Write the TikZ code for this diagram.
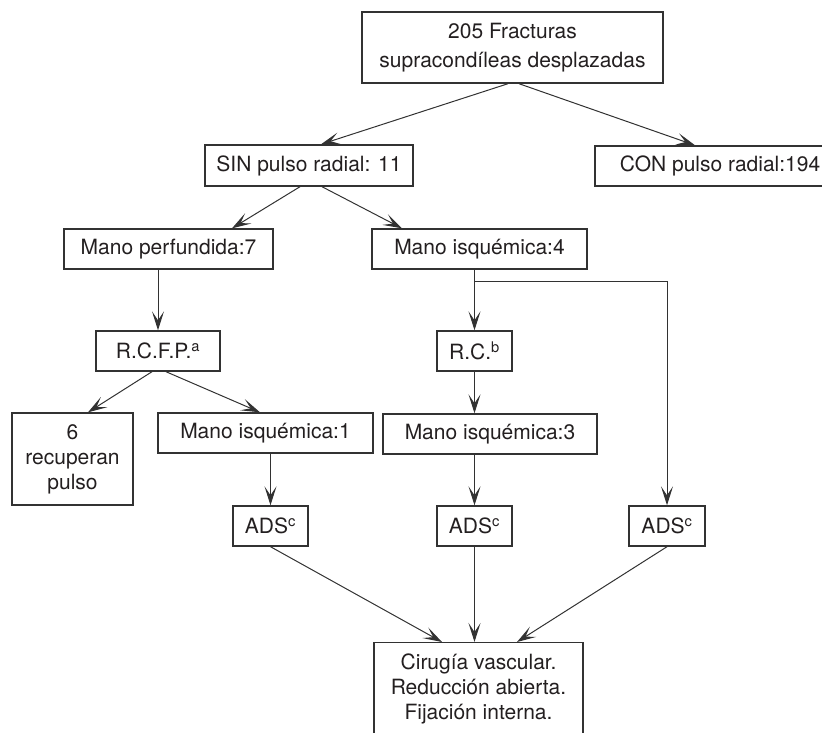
\documentclass[tikz,border=0pt]{standalone}
\usepackage{fontspec}
\setmainfont{TeX Gyre Heros}
\usepackage{xcolor}
\usepackage{tikz}
\usetikzlibrary{arrows.meta}

\definecolor{linegray}{RGB}{50,50,50}
\definecolor{inkgray}{RGB}{35,31,32}
\tikzset{
	box/.style={draw=linegray,line width=1.4pt,inner sep=0pt,align=center,text=inkgray,
		font=\fontsize{21}{25}\selectfont},
	conn/.style={color=linegray,line width=1pt,-{Stealth[length=19pt,width=12pt,inset=9pt]}}
}

\begin{document}
\begin{tikzpicture}[x=1pt,y=-1pt]
		\useasboundingbox (0,0) rectangle (822,732);
		\node[box,minimum width=301pt,minimum height=71pt] (total) at (512.5,47.5) {205 Fracturas\\[4pt]supracondíleas desplazadas};
		\node[box,minimum width=208pt,minimum height=41pt] (sin) at (309,165.5) {SIN pulso radial: 11};
		\node[box,minimum width=250pt,minimum height=40pt] (con) at (720,166) {CON pulso radial:194};
		\node[box,minimum width=209pt,minimum height=40pt] (perf) at (168.5,249) {Mano perfundida:7};
		\node[box,minimum width=215pt,minimum height=40pt] (isq4) at (479.5,249) {Mano isquémica:4};
		\node[box,minimum width=124pt,minimum height=40pt] (rcfp) at (158,351) {R.C.F.P.\textsuperscript{a}};
		\node[box,minimum width=75pt,minimum height=40pt] (rc) at (474.5,351) {R.C.\textsuperscript{b}};
		\node[box,minimum width=121pt,minimum height=92pt] (recup) at (72.5,459) {6\\recuperan\\pulso};
		\node[box,minimum width=215pt,minimum height=40pt] (isq1) at (265.5,433) {Mano isquémica:1};
		\node[box,minimum width=214pt,minimum height=40pt] (isq3) at (490,434) {Mano isquémica:3};
		\node[box,minimum width=75pt,minimum height=40pt] (adsA) at (270.5,526) {ADS\textsuperscript{c}};
		\node[box,minimum width=75pt,minimum height=40pt] (adsB) at (474.5,526) {ADS\textsuperscript{c}};
		\node[box,minimum width=76pt,minimum height=40pt] (adsC) at (667,526) {ADS\textsuperscript{c}};
		\node[box,minimum width=209pt,anchor=north,inner ysep=11pt,text depth=40pt] (cirugia) at (478.5,642) {Cirugía vascular.\\Reducción abierta.\\Fijación interna.};
		\coordinate (split) at (474.5,281);
		\coordinate (corner) at (667,281);
		%
		\draw[conn,-] (split) -- (corner);
		\path[conn]
		([xshift=-4.5pt]total.south) edge ([xshift=12pt]sin.north)
		([xshift=6.5pt]total.south) edge ([xshift=-25pt]con.north)
		([xshift=-9pt]sin.south) edge ([xshift=63.5pt]perf.north)
		([xshift=13pt]sin.south) edge ([xshift=-77.5pt]isq4.north)
		(perf.south -| rcfp.north) edge (rcfp.north)
		(isq4.south -| rc.north) edge (rc.north)
		(corner) edge (adsC.north)
		([xshift=-6pt]rcfp.south) edge ([xshift=15.5pt]recup.north)
		([xshift=8pt]rcfp.south) edge ([xshift=-5.5pt]isq1.north)
		(rc.south) edge (rc.south |- isq3.north)
		(isq1.south -| adsA.north) edge (adsA.north)
		(isq3.south -| adsB.north) edge (adsB.north)
		(adsA.south) edge ([xshift=-36.5pt]cirugia.north)
		(adsB.south) edge (adsB.south |- cirugia.north)
		(adsC.south) edge ([xshift=38.5pt]cirugia.north);
		\end{tikzpicture}
\end{document}
